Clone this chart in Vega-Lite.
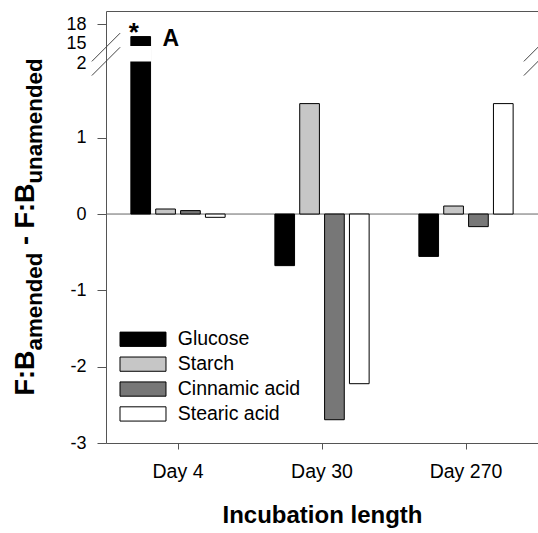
{
  "$schema": "https://vega.github.io/schema/vega-lite/v6.json",
  "width": 432,
  "height": 432,
  "autosize": {"type": "none"},
  "padding": {"left": 106, "top": 11, "right": 0, "bottom": 90},
  "background": "white",
  "datasets": {
    "fb": [
      {"day": "Day 4", "amendment": "Glucose", "value": 16.2},
      {"day": "Day 4", "amendment": "Starch", "value": 0.066},
      {"day": "Day 4", "amendment": "Cinnamic acid", "value": 0.045},
      {"day": "Day 4", "amendment": "Stearic acid", "value": -0.043},
      {"day": "Day 30", "amendment": "Glucose", "value": -0.676},
      {"day": "Day 30", "amendment": "Starch", "value": 1.447},
      {"day": "Day 30", "amendment": "Cinnamic acid", "value": -2.695},
      {"day": "Day 30", "amendment": "Stearic acid", "value": -2.223},
      {"day": "Day 270", "amendment": "Glucose", "value": -0.555},
      {"day": "Day 270", "amendment": "Starch", "value": 0.105},
      {"day": "Day 270", "amendment": "Cinnamic acid", "value": -0.165},
      {"day": "Day 270", "amendment": "Stearic acid", "value": 1.447}
    ]
  },
  "data": {"name": "fb"},
  "resolve": {"scale": {"y": "independent"}},
  "layer": [
    {
      "data": {"values": [{}]},
      "mark": {"type": "rule", "color": "#666666", "strokeWidth": 1},
      "encoding": {
        "y": {"datum": 0, "type": "quantitative",
              "scale": {"domain": [-3, 2, 14.8, 20], "range": [432, 50.4, 35, 0], "nice": false, "zero": false},
              "axis": null}
      }
    },
    {
      "mark": {"type": "bar", "stroke": "black", "strokeWidth": 1, "opacity": 1},
      "encoding": {
        "x": {"field": "day", "type": "nominal", "title": "Incubation length",
              "scale": {"domain": ["Day 4", "Day 30", "Day 270"], "paddingInner": 0, "paddingOuter": 0},
              "axis": {"labelAngle": 0, "labelFontSize": 19.5, "labelPadding": 13, "tickSize": 6, "tickColor": "#555555",
                       "domain": false, "titleFontSize": 24, "titleFontWeight": "bold",
                       "titleY": 79, "titleBaseline": "alphabetic"}},
        "xOffset": {"field": "amendment", "type": "nominal",
                    "scale": {"domain": ["Glucose", "Starch", "Cinnamic acid", "Stearic acid"], "paddingInner": 0.2083, "paddingOuter": 1.1042}},
        "y": {"field": "value", "type": "quantitative",
              "scale": {"domain": [-3, 2, 14.8, 20], "range": [432, 50.4, 35, 0], "nice": false, "zero": false},
              "axis": {"values": [-3, -2, -1, 0, 1, 2, 15, 18],
                       "labelExpr": "datum.value < 0 ? '-' + abs(datum.value) : '' + datum.value",
                       "labelFontSize": 18, "labelPadding": 11, "labelOverlap": false, "labelFlush": false, "labelBound": false,
                       "labelOffset": {"condition": [{"test": "datum.value === 15", "value": -1.5}, {"test": "datum.value === 2", "value": 2}], "value": 0},
                       "tickSize": 9, "tickColor": "#555555",
                       "tickOpacity": {"condition": {"test": "datum.value === 2 || datum.value === 15", "value": 0}, "value": 1},
                       "domain": false, "grid": false,
                       "title": "F:B", "titleX": -72.7, "titleY": 384, "titleAngle": -90, "titleAlign": "left",
                       "titleBaseline": "alphabetic", "titleFontSize": 27, "titleFontWeight": "bold"}},
        "y2": {"datum": 0},
        "color": {"field": "amendment", "type": "nominal",
                  "scale": {"domain": ["Glucose", "Starch", "Cinnamic acid", "Stearic acid"],
                            "range": ["#000000", "#c6c6c6", "#777777", "#ffffff"]},
                  "legend": {"orient": "none", "legendX": 27.25, "legendY": 318.5, "title": null, "padding": 0,
                             "symbolType": "M-3,-0.93L3,-0.93L3,0.93L-3,0.93Z", "symbolSize": 235,
                             "symbolStrokeColor": "black", "symbolStrokeWidth": 1, "symbolOpacity": 1,
                             "labelFontSize": 19.5, "labelColor": "black", "labelOffset": 25, "rowPadding": 3.9}}
      }
    },
    {
      "transform": [{"filter": "datum.value > 14.8"}],
      "mark": {"type": "bar", "color": "white", "stroke": "white", "strokeWidth": 2, "yOffset": -1, "y2Offset": 1},
      "encoding": {
        "x": {"field": "day", "type": "nominal", "title": "Incubation length"},
        "xOffset": {"field": "amendment", "type": "nominal",
                    "scale": {"domain": ["Glucose", "Starch", "Cinnamic acid", "Stearic acid"], "paddingInner": 0.2083, "paddingOuter": 1.1042}},
        "y": {"datum": 2, "type": "quantitative",
              "scale": {"domain": [-3, 2, 14.8, 20], "range": [432, 50.4, 35, 0], "nice": false, "zero": false},
              "axis": {"orient": "left", "domain": false, "ticks": false, "labels": false, "grid": false,
                       "title": "amended", "titleX": -64.3, "titleY": 339, "titleAngle": -90, "titleAlign": "left",
                       "titleBaseline": "alphabetic", "titleFontSize": 22.3, "titleFontWeight": "bold"}},
        "y2": {"datum": 14.8}
      }
    },
    {
      "data": {"values": [{}]},
      "mark": {"type": "point", "shape": "M-1,1L1,-1M-1,0L1,-2", "size": 801, "filled": false,
               "color": "#444444", "strokeWidth": 1, "opacity": 1},
      "encoding": {
        "x": {"datum": "Day 4", "type": "nominal", "bandPosition": 0, "title": "Incubation length"},
        "y": {"datum": 2, "type": "quantitative",
              "scale": {"domain": [-3, 2, 14.8, 20], "range": [432, 50.4, 35, 0], "nice": false, "zero": false},
              "axis": {"orient": "left", "domain": false, "ticks": false, "labels": false, "grid": false,
                       "title": "- F:B", "titleX": -72.7, "titleY": 233.6, "titleAngle": -90, "titleAlign": "left",
                       "titleBaseline": "alphabetic", "titleFontSize": 27, "titleFontWeight": "bold"}}
      }
    },
    {
      "data": {"values": [{}]},
      "mark": {"type": "point", "shape": "M-1,1L1,-1M-1,0L1,-2", "size": 801, "filled": false,
               "color": "#444444", "strokeWidth": 1, "opacity": 1},
      "encoding": {
        "x": {"datum": "Day 270", "type": "nominal", "bandPosition": 1, "title": "Incubation length"},
        "y": {"datum": 2, "type": "quantitative",
              "scale": {"domain": [-3, 2, 14.8, 20], "range": [432, 50.4, 35, 0], "nice": false, "zero": false},
              "axis": {"orient": "left", "domain": false, "ticks": false, "labels": false, "grid": false,
                       "title": "unamended", "titleX": -64.3, "titleY": 172.1, "titleAngle": -90, "titleAlign": "left",
                       "titleBaseline": "alphabetic", "titleFontSize": 22.3, "titleFontWeight": "bold"}}
      }
    },
    {
      "transform": [{"filter": "datum.value > 14.8"}],
      "mark": {"type": "text", "text": "*", "fontSize": 26, "fontWeight": "bold", "dx": -7, "dy": 4,
               "baseline": "alphabetic", "align": "center", "color": "black"},
      "encoding": {
        "x": {"field": "day", "type": "nominal", "title": "Incubation length"},
        "xOffset": {"field": "amendment", "type": "nominal",
                    "scale": {"domain": ["Glucose", "Starch", "Cinnamic acid", "Stearic acid"], "paddingInner": 0.2083, "paddingOuter": 1.1042}},
        "y": {"field": "value", "type": "quantitative",
              "scale": {"domain": [-3, 2, 14.8, 20], "range": [432, 50.4, 35, 0], "nice": false, "zero": false},
              "axis": null}
      }
    },
    {
      "transform": [{"filter": "datum.value > 14.8"}],
      "mark": {"type": "text", "text": "A", "fontSize": 23, "fontWeight": "bold", "dx": 30, "dy": 9,
               "baseline": "alphabetic", "align": "center", "color": "black"},
      "encoding": {
        "x": {"field": "day", "type": "nominal", "title": "Incubation length"},
        "xOffset": {"field": "amendment", "type": "nominal",
                    "scale": {"domain": ["Glucose", "Starch", "Cinnamic acid", "Stearic acid"], "paddingInner": 0.2083, "paddingOuter": 1.1042}},
        "y": {"field": "value", "type": "quantitative",
              "scale": {"domain": [-3, 2, 14.8, 20], "range": [432, 50.4, 35, 0], "nice": false, "zero": false},
              "axis": null}
      }
    }
  ],
  "config": {
    "font": "Liberation Sans",
    "view": {"stroke": "#555555", "strokeWidth": 1},
    "axis": {"labelColor": "black", "titleColor": "black", "grid": false}
  }
}
